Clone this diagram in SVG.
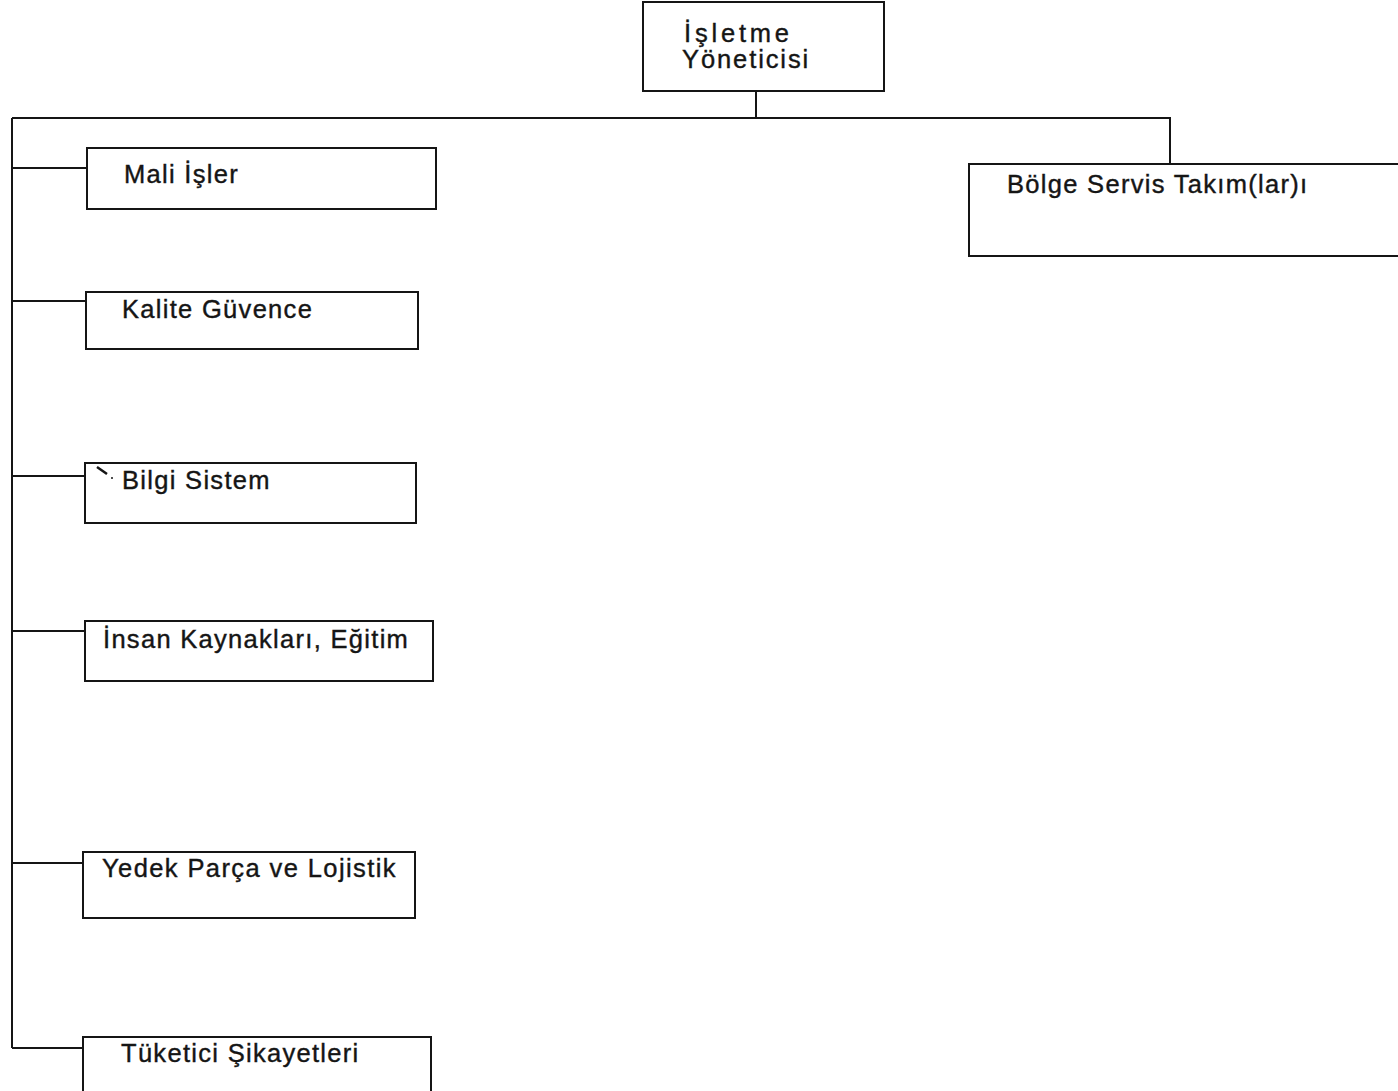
<svg xmlns="http://www.w3.org/2000/svg" width="1398" height="1091" viewBox="0 0 1398 1091">
  <style>
    .box { fill: #ffffff; stroke: #151515; stroke-width: 2; }
    .wire { fill: none; stroke: #151515; stroke-width: 2; }
    .lbl { font-family: "Liberation Sans", Arial, sans-serif; font-size: 25.5px; fill: #151515; stroke: #151515; stroke-width: 0.4px; letter-spacing: 1.3px; }
  </style>
  <rect width="1398" height="1091" fill="#ffffff"/>

  <!-- connectors -->
  <g id="connectors" class="wire">
    <path d="M756 91 V118"/>
    <path d="M12 118 H1170 V164"/>
    <path d="M12 118 V1048"/>
    <path d="M12 168 H87"/>
    <path d="M12 301 H86"/>
    <path d="M12 476 H85"/>
    <path d="M12 631 H85"/>
    <path d="M12 863 H83"/>
    <path d="M12 1048 H83"/>
  </g>

  <g id="isletme-yoneticisi">
    <rect class="box" x="643" y="2" width="241" height="89"/>
    <text class="lbl" x="684" y="42" style="letter-spacing:3.8px">İşletme</text>
    <text class="lbl" x="682" y="68" style="letter-spacing:1.9px">Yöneticisi</text>
  </g>

  <g id="mali-isler">
    <rect class="box" x="87" y="148" width="349" height="61"/>
    <text class="lbl" x="124" y="183">Mali İşler</text>
  </g>

  <g id="kalite-guvence">
    <rect class="box" x="86" y="292" width="332" height="57"/>
    <text class="lbl" x="122" y="318">Kalite Güvence</text>
  </g>

  <g id="bilgi-sistem">
    <rect class="box" x="85" y="463" width="331" height="60"/>
    <path d="M97 467 L107 474" stroke="#151515" stroke-width="2.5" fill="none"/>
    <circle cx="112" cy="478" r="1" fill="#151515"/>
    <text class="lbl" x="122" y="489">Bilgi Sistem</text>
  </g>

  <g id="insan-kaynaklari">
    <rect class="box" x="85" y="621" width="348" height="60"/>
    <text class="lbl" x="103" y="648">İnsan Kaynakları, Eğitim</text>
  </g>

  <g id="yedek-parca">
    <rect class="box" x="83" y="852" width="332" height="66"/>
    <text class="lbl" x="102" y="877" style="letter-spacing:1.4px">Yedek Parça ve Lojistik</text>
  </g>

  <g id="tuketici-sikayetleri">
    <rect class="box" x="83" y="1037" width="348" height="60"/>
    <text class="lbl" x="121" y="1062">Tüketici Şikayetleri</text>
  </g>

  <g id="bolge-servis">
    <rect class="box" x="969" y="164" width="440" height="92"/>
    <text class="lbl" x="1007" y="193">Bölge Servis Takım(lar)ı</text>
  </g>
</svg>
